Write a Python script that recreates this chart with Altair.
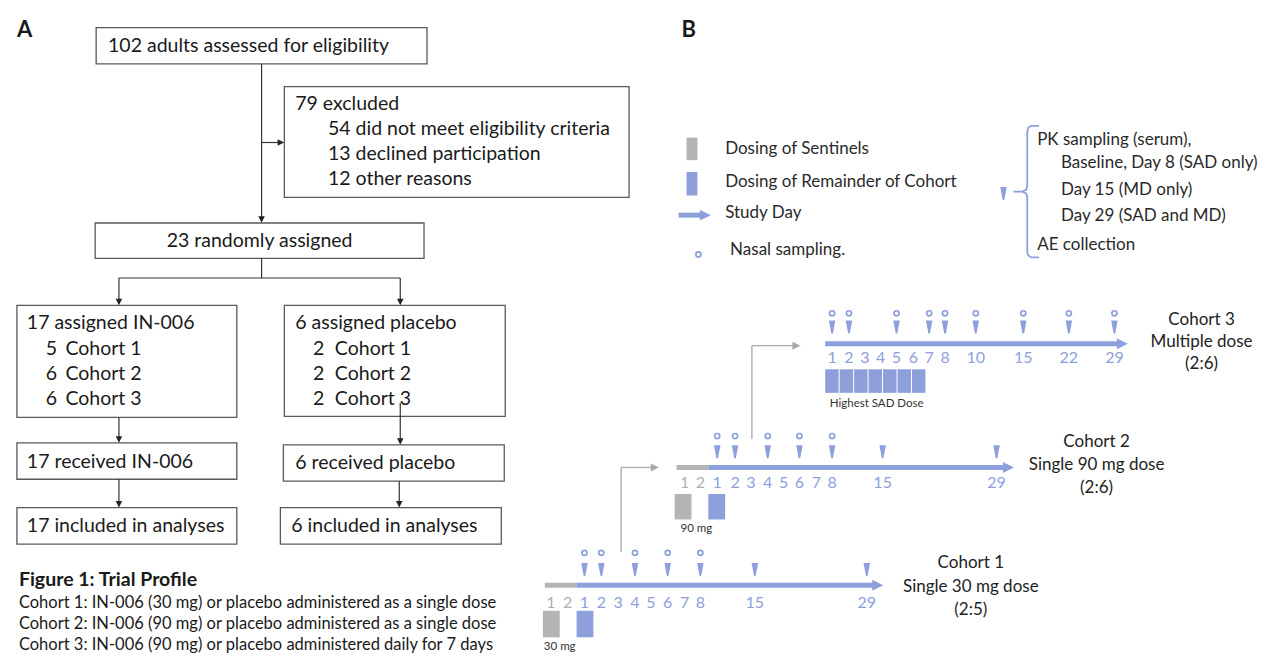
import altair as alt
import pandas as pd

# ---------------- canvas ----------------
W, H = 1255, 645
FONT = "Lato"
BLUE = "#8DA0DC"
SENT = "#B4B4B4"
CONN = "#A8A8A8"
INK = "#1A1A1A"
EDGE = "#595959"

# reference-pixel coordinate frame mapped onto the drawing area
xs = alt.Scale(domain=[3, 1270], nice=False, zero=False)
ys = alt.Scale(domain=[4, 661], nice=False, zero=False, reverse=True)

TRI_DOWN = "M-1,-1L1,-1L0,1Z"
TRI_RIGHT = "M-1,-1L1,0L-1,1Z"
WEDGE = "M-0.5,-1L0.5,-1L0.12,1L-0.12,1Z"

# ---------------- Panel A: content ----------------
screened = 102
excluded = 79
excl_reasons = ["did not meet eligibility criteria", "declined participation", "other reasons"]
excl_counts = [54, 13, 12]
randomised = 23
cohorts = ["Cohort 1", "Cohort 2", "Cohort 3"]
in006_counts = [5, 6, 6]
placebo_counts = [2, 2, 2]
in006_total = 17
placebo_total = 6
caption_title = "Figure 1: Trial Profile"
caption_lines = [
    "Cohort 1: IN-006 (30 mg) or placebo administered as a single dose",
    "Cohort 2: IN-006 (90 mg) or placebo administered as a single dose",
    "Cohort 3: IN-006 (90 mg) or placebo administered daily for 7 days",
]

# Panel A: layout
box_x0 = [92, 282, 91, 12, 282, 12, 281, 12, 278]
box_x1 = [426, 630, 423, 234, 505, 234, 504, 234, 501]
box_y0 = [24, 84, 223, 307, 307, 447, 449, 513, 513]
box_y1 = [61, 197, 259, 421, 420, 484, 486, 550, 550]

flow_lines = [  # x1, y1, x2, y2
    (259, 61, 259, 218), (259, 141, 277, 141),
    (259, 259, 259, 279), (115, 279, 399, 279),
    (115, 279, 115, 302), (399, 279, 399, 302),
    (115, 421, 115, 442), (399, 406, 399, 444),
    (115, 484, 115, 508), (398, 486, 398, 508),
]
head_down = [(259, 219.5), (115, 303.5), (399, 303.5), (115, 443.5), (399, 445.5), (115, 509.5), (398, 509.5)]
head_right = [(278.5, 141)]

# ---------------- Panel B: content ----------------
legend_items = ["Dosing of Sentinels", "Dosing of Remainder of Cohort", "Study Day", "Nasal sampling."]
pk_lines = ["PK sampling (serum),", "Baseline, Day 8 (SAD only)", "Day 15 (MD only)",
            "Day 29 (SAD and MD)", "AE collection"]

cohort_titles = [["Cohort 1", "Single 30 mg dose", "(2:5)"],
                 ["Cohort 2", "Single 90 mg dose", "(2:6)"],
                 ["Cohort 3", "Multiple dose", "(2:6)"]]
sentinel_days = [[1, 2], [1, 2], []]
study_days = [[1, 2, 3, 4, 5, 6, 7, 8, 15, 29],
              [1, 2, 3, 4, 5, 6, 7, 8, 15, 29],
              [1, 2, 3, 4, 5, 6, 7, 8, 10, 15, 22, 29]]
pk_days = [[1, 2, 4, 6, 8, 15, 29],
           [1, 2, 4, 6, 8, 15, 29],
           [1, 2, 5, 7, 8, 10, 15, 22, 29]]
nasal_days = [[1, 2, 4, 6, 8],
              [1, 2, 4, 6, 8],
              [1, 2, 5, 7, 8, 10, 15, 22, 29]]
dose_labels = ["30 mg", "90 mg", "Highest SAD Dose"]
dosing_days_main = [1, 1, 7]

# Panel B: layout
sentinel_x = [[551, 568], [686, 702], []]
study_x = [[585, 602, 619, 636, 652, 669, 686, 702, 757, 870],
           [719, 737, 753, 770, 786, 802, 819, 835, 886, 1001],
           [835, 852, 868, 884, 900, 917, 933, 949, 980, 1028, 1074, 1120]]
row_line_y = [592, 472, 346]
row_label_y = [610, 488, 361]
row_pk_y = [576, 456, 329]
row_nasal_y = [559, 440, 315]
gray_seg = [(545, 577), (678, 710), None]
blue_seg = [(577, 880), (710, 1012), (828, 1127)]
title_cx = [975, 1102, 1208]
title_y = [[569, 594, 617], [446, 470, 493], [322, 344, 367]]
sent_rect = [(543, 560, 618, 645), (676, 693, 499, 525), None]
main_rect_x0 = [577, 710, 828]
main_rect_w = [17, 17, 13.6]
main_rect_step = [0, 0, 14.6]
main_rect_y = [(618, 645), (499, 525), (372, 396)]
dose_label_pos = [(560, 655), (698, 535), (880, 407)]
connectors = [  # x, y bottom, y top, x end
    (622, 558, 472, 653),
    (754, 443, 348, 796),
]

# ---------------- build frames ----------------
def X(f="x"):
    return alt.X(f"{f}:Q", scale=xs, axis=None)

def Y(f="y"):
    return alt.Y(f"{f}:Q", scale=ys, axis=None)

layers = []

boxes = pd.DataFrame({"x0": box_x0, "x1": box_x1, "y0": box_y0, "y1": box_y1})
layers.append(alt.Chart(boxes).mark_rect(fill="white", stroke=EDGE, strokeWidth=1.3).encode(
    x=X("x0"), x2="x1:Q", y=Y("y0"), y2="y1:Q"))

fl = pd.DataFrame(flow_lines, columns=["x", "y", "x2", "y2"])
layers.append(alt.Chart(fl).mark_rule(color="#333333", strokeWidth=1.2).encode(
    x=X(), y=Y(), x2="x2:Q", y2="y2:Q"))
layers.append(alt.Chart(pd.DataFrame(head_down, columns=["x", "y"])).mark_point(
    shape=TRI_DOWN, filled=True, size=42, color="#222222", opacity=1).encode(x=X(), y=Y()))
layers.append(alt.Chart(pd.DataFrame(head_right, columns=["x", "y"])).mark_point(
    shape=TRI_RIGHT, filled=True, size=42, color="#222222", opacity=1).encode(x=X(), y=Y()))

left_rows, center_rows, bold_rows = [], [], []

def add(rows, t, x, y, size, color=INK):
    rows.append({"t": t, "x": x, "y": y, "s": size, "c": color})

FS = 19.5
add(left_rows, f"{screened} adults assessed for eligibility", 104, 43, FS)
add(left_rows, f"{excluded} excluded", 293, 102, FS)
for i, (n, r) in enumerate(zip(excl_counts, excl_reasons)):
    add(left_rows, f"{n} {r}", 326, 127 + i * 25.5, FS)
add(center_rows, f"{randomised} randomly assigned", 257, 241, FS)
add(left_rows, f"{in006_total} assigned IN-006", 22, 325, FS)
add(left_rows, f"{placebo_total} assigned placebo", 293, 325, FS)
for i, c in enumerate(cohorts):
    yy = 351 + i * 25.5
    add(left_rows, str(in006_counts[i]), 41, yy, FS)
    add(left_rows, c, 61, yy, FS)
    add(left_rows, str(placebo_counts[i]), 311, yy, FS)
    add(left_rows, c, 333, yy, FS)
add(left_rows, f"{in006_total} received IN-006", 22, 466, FS)
add(left_rows, f"{placebo_total} received placebo", 293, 467, FS)
add(left_rows, f"{in006_total} included in analyses", 22, 532, FS)
add(left_rows, f"{placebo_total} included in analyses", 289, 532, FS)
for i, line in enumerate(caption_lines):
    add(left_rows, line, 14, 610 + i * 21.5, 16.5)
add(bold_rows, caption_title, 14, 587, 19.5)
add(bold_rows, "A", 12, 26, 22)
add(bold_rows, "B", 683, 26, 22)

LS = 17
leg_y = [148, 181, 213, 250]
leg_x = [727, 727, 727, 732]
for t, x, y in zip(legend_items, leg_x, leg_y):
    add(left_rows, t, x, y, LS, "#2A2A2A")
pk_x = [1042, 1066, 1066, 1066, 1042]
pk_y = [138, 162, 189, 216, 245]
for t, x, y in zip(pk_lines, pk_x, pk_y):
    add(left_rows, t, x, y, LS, "#2A2A2A")

for k in range(3):
    for t, y in zip(cohort_titles[k], title_y[k]):
        add(center_rows, t, title_cx[k], y, 17, "#222222")
    for d, x in zip(sentinel_days[k], sentinel_x[k]):
        add(center_rows, str(d), x, row_label_y[k], 16, "#AFAFAF")
    for d, x in zip(study_days[k], study_x[k]):
        add(center_rows, str(d), x, row_label_y[k], 16, BLUE)
    lx, ly = dose_label_pos[k]
    add(center_rows, dose_labels[k], lx, ly, 11.5, "#333333")

leg_rects = pd.DataFrame({"x0": [688, 688], "x1": [699, 699], "y0": [136, 171], "y1": [159, 195],
                          "c": [SENT, BLUE]})
layers.append(alt.Chart(leg_rects).mark_rect().encode(
    x=X("x0"), x2="x1:Q", y=Y("y0"), y2="y1:Q", color=alt.Color("c:N", scale=None)))

shafts = []
for k in range(3):
    if gray_seg[k]:
        shafts.append({"x": gray_seg[k][0], "x2": gray_seg[k][1], "y": row_line_y[k], "c": SENT})
    shafts.append({"x": blue_seg[k][0], "x2": blue_seg[k][1], "y": row_line_y[k], "c": BLUE})
shafts.append({"x": 680, "x2": 706, "y": 215, "c": BLUE})
layers.append(alt.Chart(pd.DataFrame(shafts)).mark_rule(strokeWidth=5).encode(
    x=X(), x2="x2:Q", y=Y(), color=alt.Color("c:N", scale=None)))
heads = [{"x": blue_seg[k][1] + 1, "y": row_line_y[k]} for k in range(3)] + [{"x": 707, "y": 215}]
layers.append(alt.Chart(pd.DataFrame(heads)).mark_point(
    shape=TRI_RIGHT, filled=True, size=120, color=BLUE, opacity=1).encode(x=X(), y=Y()))

drects = []
for k in range(3):
    if sent_rect[k]:
        a, b, c, d = sent_rect[k]
        drects.append({"x0": a, "x1": b, "y0": c, "y1": d, "c": SENT})
    for j in range(dosing_days_main[k]):
        x0 = main_rect_x0[k] + j * main_rect_step[k]
        drects.append({"x0": x0, "x1": x0 + main_rect_w[k], "y0": main_rect_y[k][0],
                       "y1": main_rect_y[k][1], "c": BLUE})
layers.append(alt.Chart(pd.DataFrame(drects)).mark_rect().encode(
    x=X("x0"), x2="x1:Q", y=Y("y0"), y2="y1:Q", color=alt.Color("c:N", scale=None)))

wedges, circles = [], []
for k in range(3):
    pos = dict(zip(study_days[k], study_x[k]))
    for d in pk_days[k]:
        wedges.append({"x": pos[d], "y": row_pk_y[k]})
    for d in nasal_days[k]:
        circles.append({"x": pos[d], "y": row_nasal_y[k]})
wedges.append({"x": 1008, "y": 193})
circles.append({"x": 700, "y": 255})
layers.append(alt.Chart(pd.DataFrame(wedges)).mark_point(
    shape=WEDGE, filled=True, size=170, color=BLUE, opacity=1).encode(x=X(), y=Y()))
layers.append(alt.Chart(pd.DataFrame(circles)).mark_point(
    shape="circle", filled=False, size=26, strokeWidth=1.7, color=BLUE, opacity=1).encode(x=X(), y=Y()))

crules, cheads = [], []
for (cx, ybot, ytop, xend) in connectors:
    crules.append({"x": cx, "y": ybot, "x2": cx, "y2": ytop})
    crules.append({"x": cx, "y": ytop, "x2": xend, "y2": ytop})
    cheads.append({"x": xend + 3, "y": ytop})
layers.append(alt.Chart(pd.DataFrame(crules)).mark_rule(color=CONN, strokeWidth=1.3).encode(
    x=X(), y=Y(), x2="x2:Q", y2="y2:Q"))
layers.append(alt.Chart(pd.DataFrame(cheads)).mark_point(
    shape=TRI_RIGHT, filled=True, size=64, color=CONN, opacity=1).encode(x=X(), y=Y()))

br_x = [1044, 1036, 1033, 1032, 1032, 1031, 1027, 1018, 1027, 1031, 1032, 1032, 1033, 1036, 1044]
br_y = [124, 124, 126, 130, 185, 189, 191, 191, 191, 193, 197, 253, 256, 258, 258]
bracket = pd.DataFrame({"x": br_x, "y": br_y, "i": list(range(len(br_x)))})
layers.append(alt.Chart(bracket).mark_line(color=BLUE, strokeWidth=1.8).encode(
    x=X(), y=Y(), order="i:Q"))

def text_layer(rows, align, weight):
    return alt.Chart(pd.DataFrame(rows)).mark_text(
        align=align, baseline="middle", font=FONT, fontWeight=weight).encode(
        x=X(), y=Y(), text="t:N", size=alt.Size("s:Q", scale=None),
        color=alt.Color("c:N", scale=None))

layers.append(text_layer(left_rows, "left", "normal"))
layers.append(text_layer(center_rows, "center", "normal"))
layers.append(text_layer(bold_rows, "left", "bold"))

chart = alt.layer(*layers).properties(
    width=W, height=H, padding=0, autosize="none", background="white"
).configure_view(stroke=None)

chart.save("out.html", embed_options={"renderer": "svg", "actions": False})
